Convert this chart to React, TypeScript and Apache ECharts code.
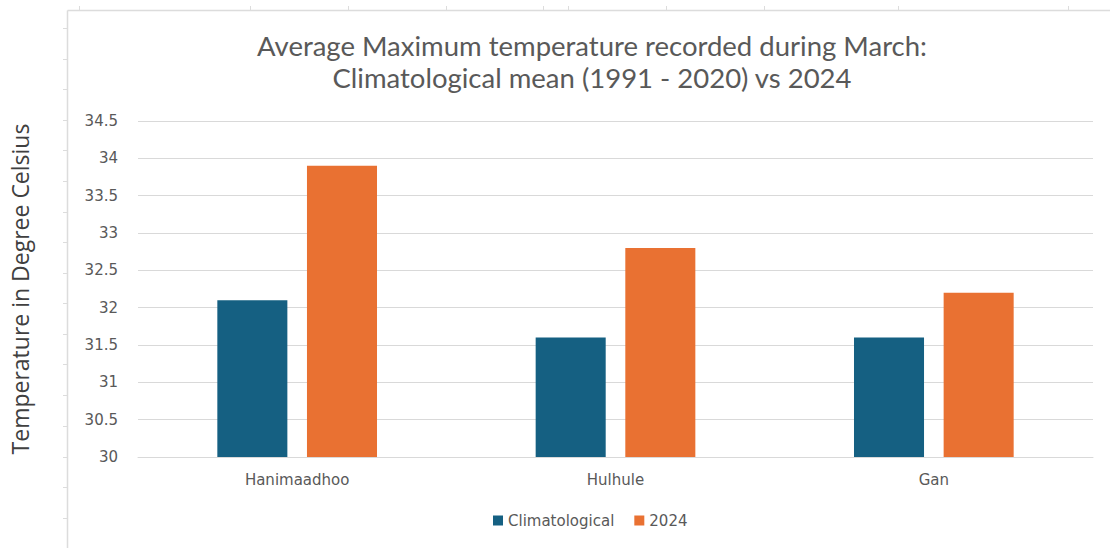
import React, { useEffect, useRef } from "react";
import * as echarts from "echarts";

const categories = ["Hanimaadhoo", "Hulhule", "Gan"];
const climatological = [32.1, 31.6, 31.6];
const year2024 = [33.9, 32.8, 32.2];
const seriesNames = ["Climatological", "2024"];
const titleLines = [
  "Average Maximum temperature recorded during March:",
  "Climatological mean (1991 - 2020) vs 2024",
];
const yAxisTitle = "Temperature in Degree Celsius";

const leftTickYs = [28, 59, 89, 120, 150, 181, 212, 242, 273, 303, 334, 364, 395, 426, 457, 487, 518];
const topTickXs = [79, 250, 348, 446, 543, 568, 666, 764, 898, 1068];

export default function App() {
  const ref = useRef<HTMLDivElement>(null);
  useEffect(() => {
    if (!ref.current) return;
    const chart = echarts.init(ref.current, null, { renderer: "svg" });
    const borderColor = "#dcdcdc";
    const graphics: any[] = [
      { type: "line", shape: { x1: 67.5, y1: 10.5, x2: 67.5, y2: 548 }, style: { stroke: borderColor, lineWidth: 1.5 } },
      { type: "line", shape: { x1: 67.5, y1: 10.5, x2: 1110, y2: 10.5 }, style: { stroke: borderColor, lineWidth: 1.5 } },
    ];
    leftTickYs.forEach((y) =>
      graphics.push({ type: "line", shape: { x1: 63, y1: y + 0.5, x2: 67, y2: y + 0.5 }, style: { stroke: borderColor, lineWidth: 1 } })
    );
    topTickXs.forEach((x) =>
      graphics.push({ type: "line", shape: { x1: x + 0.5, y1: 6, x2: x + 0.5, y2: 10 }, style: { stroke: borderColor, lineWidth: 1 } })
    );
    chart.setOption({
      animation: false,
      backgroundColor: "#ffffff",
      title: {
        text: titleLines.join("\n"),
        left: 587,
        textAlign: "center",
        top: 24,
        textStyle: {
          fontFamily: "Lato",
          fontSize: 27.5,
          fontWeight: "normal",
          color: "#595959",
          lineHeight: 32,
        },
      },
      graphic: graphics,
      legend: {
        data: seriesNames,
        left: 488,
        top: 508,
        icon: "rect",
        itemWidth: 10,
        itemHeight: 10,
        itemGap: 20,
        textStyle: { fontFamily: "DejaVu Sans", fontSize: 15, color: "#595959" },
      },
      grid: { left: 135, right: 17, top: 121, bottom: 91 },
      xAxis: {
        type: "category",
        data: categories,
        axisLine: { lineStyle: { color: "#d9d9d9" } },
        axisTick: { show: false },
        axisLabel: { margin: 15, fontFamily: "DejaVu Sans", fontSize: 15, color: "#595959" },
      },
      yAxis: {
        type: "value",
        min: 30,
        max: 34.5,
        interval: 0.5,
        name: yAxisTitle,
        nameLocation: "middle",
        nameGap: 107,
        nameTextStyle: { fontFamily: "Open Sans", fontSize: 23, color: "#404040" },
        axisLabel: { margin: 20, fontFamily: "DejaVu Sans", fontSize: 15, color: "#595959" },
        splitLine: { lineStyle: { color: "#d9d9d9" } },
        axisLine: { show: false },
        axisTick: { show: false },
      },
      series: [
        {
          name: seriesNames[0],
          type: "bar",
          data: climatological,
          barWidth: "22%",
          barGap: "28%",
          itemStyle: { color: "#156082" },
        },
        {
          name: seriesNames[1],
          type: "bar",
          data: year2024,
          barWidth: "22%",
          itemStyle: { color: "#E97132" },
        },
      ],
    });
    return () => chart.dispose();
  }, []);
  return (
    <div
      ref={ref}
      style={{ position: "fixed", left: 0, top: 0, width: 1110, height: 548, background: "#fff" }}
    />
  );
}
